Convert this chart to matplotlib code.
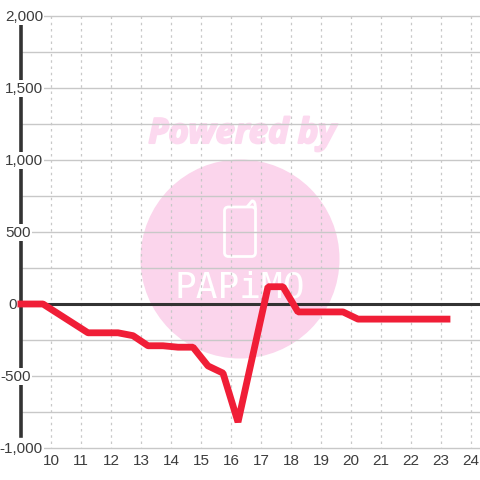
from matplotlib import pyplot as plt
from matplotlib.patches import Circle, FancyBboxPatch
from matplotlib.path import Path
from matplotlib.patches import PathPatch
import matplotlib.patheffects as pe

hours = [8.9, 9.75, 11.25, 12.25, 12.75, 13.25, 13.75, 14.25, 14.75, 15.25, 15.75, 16.25, 17.25, 17.75, 18.25, 19.75, 20.25, 23.33]
values = [0, 0, -200, -200, -220, -290, -290, -300, -300, -430, -480, -820, 120, 120, -55, -55, -105, -105]
xticks = [10, 11, 12, 13, 14, 15, 16, 17, 18, 19, 20, 21, 22, 23, 24]
ylabels = {2000: '2,000', 1500: '1,500', 1000: '1,000', 500: '500', 0: '0', -500: '-500', -1000: '-1,000'}
label_right = {2000: 43, 1500: 43, 1000: 43, 500: 30.5, 0: 16.5, -500: 31, -1000: 43}
ygrid = [-1000, -750, -500, -250, 250, 500, 750, 1000, 1250, 1500, 1750, 2000]

plt.rcParams['font.family'] = ['Liberation Sans', 'DejaVu Sans']

fig = plt.figure(figsize=(4.8, 4.8), dpi=100)
# whole figure is one axes in pixel coords, data mapped by hand below
ax = fig.add_axes([0, 0, 1, 1])
ax.set_xlim(0, 480)
ax.set_ylim(480, 0)
ax.axis('off')


def px(h):
    return 50.5 + (h - 10) * 30


def py(v):
    return 304 - v * 0.144


pink = '#fbd5ec'
# watermark
ax.add_patch(Circle((240, 259), 99.5, fc=pink, ec='none', zorder=1))
ax.text(242, 134, 'Powered by', color='#fcd9ef', fontsize=25, fontweight='bold', style='italic',
        family='Open Sans', ha='center', va='center', zorder=1,
        path_effects=[pe.withStroke(linewidth=1.5, foreground='#fcd9ef')])
ax.add_patch(FancyBboxPatch((224.5, 207), 31, 49.5, boxstyle='round,pad=0,rounding_size=4', fc='none', ec='white', lw=2, zorder=1))
ax.add_patch(PathPatch(Path([(247, 207), (252, 201), (255.5, 200), (255.5, 210)],
                            [Path.MOVETO, Path.LINETO, Path.CURVE3, Path.LINETO]),
                       fc='none', ec='white', lw=2, zorder=1))
ax.text(240, 288, 'PAPiMO', color='white', fontsize=26, family='DejaVu Sans Mono', ha='center', va='center', zorder=1)

# grid
for v in ygrid:
    ax.plot([20, 480], [py(v), py(v)], color='#c8c8c8', lw=1, zorder=2)
for h in xticks:
    ax.plot([px(h), px(h)], [16, 448], color='#c8c8c8', lw=0.9, ls=(0, (2, 3)), zorder=2)

# axes
ax.plot([20, 480], [py(0), py(0)], color='#333333', lw=2.2, zorder=3)
ax.plot([20.5, 20.5], [24, 436], color='#333333', lw=2.6, zorder=3)

ax.plot([px(h) for h in hours], [py(v) for v in values], color='#f01e37', lw=4.9, solid_joinstyle='bevel',
        solid_capstyle='butt', zorder=4)

for v, s in ylabels.items():
    ax.text(label_right[v], py(v) + 0.7, s, color='#3c3c3c', fontsize=11, ha='right', va='center', zorder=5,
            bbox=dict(fc='white', ec='none', pad=1) if v != 0 else None)
for h in xticks:
    ax.text(px(h) + 0.5, 461, str(h), color='#3c3c3c', fontsize=11, ha='center', va='center', zorder=5)

fig.savefig('out.png', dpi=100)
